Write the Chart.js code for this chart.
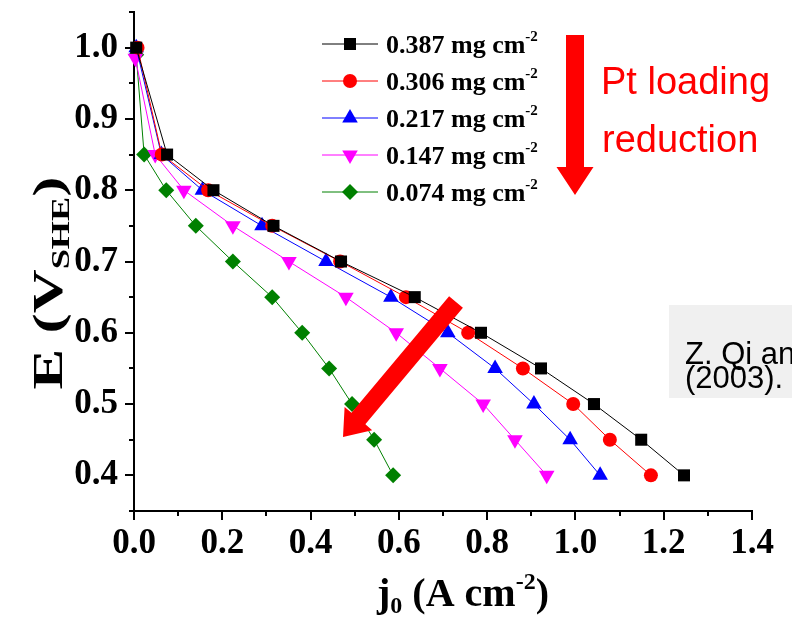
<!DOCTYPE html>
<html>
<head>
<meta charset="utf-8">
<script src="https://cdn.jsdelivr.net/npm/chart.js@4.4.0/dist/chart.umd.min.js"></script>
<style>
  html, body { margin: 0; padding: 0; background: #fff; }
  #wrap { width: 792px; height: 626px; }
</style>
</head>
<body>
<div id="wrap"><canvas id="chart"></canvas></div>
<script>
// Pt loadings (mg cm-2)
const loadings = ['0.387', '0.306', '0.217', '0.147', '0.074'];

// potential E (V_SHE) for each point
const eTop = [1.0, 0.85, 0.80, 0.75, 0.70, 0.65, 0.60, 0.55, 0.50, 0.45, 0.40];
const eLow = [0.985, 0.85, 0.80, 0.75, 0.70, 0.65, 0.60, 0.55, 0.50, 0.45, 0.40];
const eGreen = [0.99, 0.85, 0.80, 0.75, 0.70, 0.65, 0.60, 0.55, 0.50, 0.45, 0.40];

// current density j0 (A cm-2)
const j387 = [0.005, 0.075, 0.180, 0.316, 0.469, 0.636, 0.786, 0.922, 1.042, 1.149, 1.246];
const j306 = [0.008, 0.063, 0.168, 0.313, 0.467, 0.616, 0.757, 0.881, 0.995, 1.078, 1.171];
const j217 = [0.005, 0.062, 0.155, 0.290, 0.435, 0.582, 0.711, 0.818, 0.906, 0.988, 1.056];
const j147 = [0.003, 0.048, 0.113, 0.224, 0.351, 0.480, 0.594, 0.693, 0.791, 0.863, 0.935];
const j074 = [0.005, 0.023, 0.073, 0.140, 0.224, 0.313, 0.381, 0.442, 0.494, 0.544, 0.587];

const xTicks = [0, 0.2, 0.4, 0.6, 0.8, 1.0, 1.2, 1.4];
const yTicks = [0.4, 0.5, 0.6, 0.7, 0.8, 0.9, 1.0];

const colors = ['#000000', '#ff0000', '#0000ff', '#ff00ff', '#008000'];
const styles = ['rect', 'circle', 'triangle', 'triangle', 'rectRot'];
const rotations = [0, 0, 0, 180, 0];
const radii = [8.5, 7, 9, 9, 8];

function pts(xs, ys) {
  return xs.map((x, i) => ({ x: x, y: ys[i] }));
}

const series = [pts(j387, eTop), pts(j306, eTop), pts(j217, eTop), pts(j147, eLow), pts(j074, eGreen)];

const datasets = series.map((d, i) => ({
  label: loadings[i] + ' mg cm-2',
  data: d,
  borderColor: colors[i],
  backgroundColor: colors[i],
  borderWidth: 1,
  pointStyle: styles[i],
  pointRotation: rotations[i],
  pointRadius: radii[i],
  pointHoverRadius: radii[i],
  pointBorderWidth: 0,
  tension: 0,
  clip: false
}));

const serif = '"Liberation Serif", "Times New Roman", serif';
const sans = '"Liberation Sans", Arial, sans-serif';

function arrow(ctx, x1, y1, x2, y2, shaftW, headW, headL) {
  const dx = x2 - x1, dy = y2 - y1;
  const len = Math.hypot(dx, dy);
  const ux = dx / len, uy = dy / len;
  const px = -uy, py = ux;
  const bx = x2 - ux * headL, by = y2 - uy * headL;
  ctx.beginPath();
  ctx.moveTo(x1 + px * shaftW / 2, y1 + py * shaftW / 2);
  ctx.lineTo(bx + px * shaftW / 2, by + py * shaftW / 2);
  ctx.lineTo(bx + px * headW / 2, by + py * headW / 2);
  ctx.lineTo(x2, y2);
  ctx.lineTo(bx - px * headW / 2, by - py * headW / 2);
  ctx.lineTo(bx - px * shaftW / 2, by - py * shaftW / 2);
  ctx.lineTo(x1 - px * shaftW / 2, y1 - py * shaftW / 2);
  ctx.closePath();
  ctx.fill();
}

// pieces of text with sub/superscripts: [text, size, dy]
function drawPieces(ctx, pieces, x, y, align) {
  let total = 0;
  pieces.forEach(p => {
    ctx.font = 'bold ' + p[1] + 'px ' + serif;
    total += ctx.measureText(p[0]).width;
  });
  let cx = align === 'center' ? x - total / 2 : x;
  ctx.textAlign = 'left';
  ctx.textBaseline = 'alphabetic';
  pieces.forEach(p => {
    ctx.font = 'bold ' + p[1] + 'px ' + serif;
    ctx.fillText(p[0], cx, y + p[2]);
    cx += ctx.measureText(p[0]).width;
  });
}

const extras = {
  id: 'extras',
  afterDraw(chart) {
    const ctx = chart.ctx;
    const xs = chart.scales.x, ys = chart.scales.y;
    ctx.save();

    // minor ticks
    ctx.strokeStyle = '#000';
    ctx.lineWidth = 2;
    ctx.beginPath();
    for (let v = 0.35; v < 1.06; v += 0.1) {
      const y = Math.round(ys.getPixelForValue(v));
      ctx.moveTo(xs.left - 1, y);
      ctx.lineTo(xs.left - 5, y);
    }
    for (let v = 0.1; v < 1.4; v += 0.2) {
      const x = Math.round(xs.getPixelForValue(v));
      ctx.moveTo(x, ys.bottom + 1);
      ctx.lineTo(x, ys.bottom + 5);
    }
    ctx.stroke();

    // legend
    const rowY = [44, 81, 118, 155, 192];
    chart.data.datasets.forEach((ds, i) => {
      const y = rowY[i];
      ctx.strokeStyle = ds.borderColor;
      ctx.fillStyle = ds.backgroundColor;
      ctx.lineWidth = 1;
      ctx.beginPath();
      ctx.moveTo(322, y);
      ctx.lineTo(378, y);
      ctx.stroke();
      Chart.helpers.drawPoint(ctx, {
        pointStyle: ds.pointStyle, rotation: ds.pointRotation,
        radius: ds.pointRadius, borderWidth: 0
      }, 350, y);
      ctx.fillStyle = '#000';
      drawPieces(ctx, [[loadings[i] + ' mg cm', 26, 0], ['-2', 15, -12]], 386, y + 9, 'left');
    });

    // axis titles
    ctx.fillStyle = '#000';
    drawPieces(ctx, [['j', 40, 0], ['0', 24, 7], [' (A cm', 40, 0], ['-2', 24, -17], [')', 40, 0]], 463, 606, 'center');
    ctx.save();
    ctx.translate(62, 283);
    ctx.rotate(-Math.PI / 2);
    ctx.scale(1.45, 1);
    drawPieces(ctx, [['E (V', 42, 0], ['SHE', 25, 7], [')', 42, 0]], 0, 0, 'center');
    ctx.restore();

    // red arrows and note
    ctx.fillStyle = '#ff0000';
    arrow(ctx, 575, 35, 575, 195, 18, 37, 28);
    arrow(ctx, 456, 302, 343, 437, 18, 36, 24);
    ctx.font = '38px ' + sans;
    ctx.textAlign = 'left';
    ctx.textBaseline = 'alphabetic';
    ctx.fillText('Pt loading', 601, 94);
    ctx.fillText('reduction', 602, 152);

    // reference box
    ctx.fillStyle = '#f0f0f0';
    ctx.fillRect(669, 305, 140, 93);
    ctx.fillStyle = '#000';
    ctx.font = '31px ' + sans;
    ctx.fillText('Z. Qi and A. Kaufman', 685, 364);
    ctx.fillText('(2003).', 685, 388);

    ctx.restore();
  }
};

new Chart(document.getElementById('chart'), {
  type: 'line',
  data: { datasets: datasets },
  options: {
    responsive: true,
    maintainAspectRatio: false,
    animation: false,
    layout: { padding: { top: 12, right: 40, left: 0, bottom: 0 } },
    plugins: { legend: { display: false }, tooltip: { enabled: false } },
    scales: {
      x: {
        type: 'linear',
        min: 0,
        max: 1.4,
        afterBuildTicks: s => { s.ticks = xTicks.map(v => ({ value: v })); },
        afterFit: s => { s.height = 115; s.paddingLeft = 0; s.paddingRight = 0; },
        grid: { display: true, drawOnChartArea: false, drawTicks: true, tickLength: 9, color: '#000', lineWidth: 2 },
        border: { display: true, color: '#000', width: 2 },
        ticks: {
          color: '#000',
          padding: 3,
          maxRotation: 0,
          font: { family: serif, size: 35, weight: 'bold' },
          callback: v => v.toFixed(1)
        }
      },
      y: {
        type: 'linear',
        min: 0.35,
        max: 1.05,
        afterBuildTicks: s => { s.ticks = yTicks.map(v => ({ value: v })); },
        afterFit: s => { s.width = 134; s.paddingTop = 0; s.paddingBottom = 0; },
        grid: { display: true, drawOnChartArea: false, drawTicks: true, tickLength: 9, color: '#000', lineWidth: 2 },
        border: { display: true, color: '#000', width: 2 },
        ticks: {
          color: '#000',
          padding: 7,
          font: { family: serif, size: 35, weight: 'bold' },
          callback: v => v.toFixed(1)
        }
      }
    }
  },
  plugins: [extras]
});
</script>
</body>
</html>
